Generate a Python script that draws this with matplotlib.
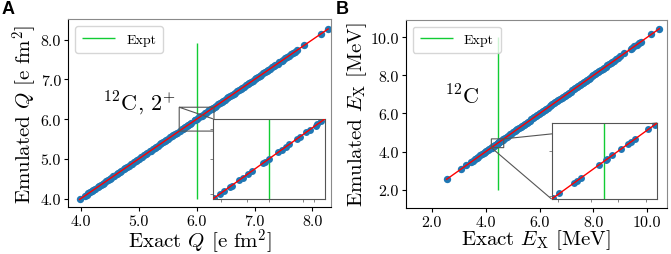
import matplotlib
matplotlib.use("Agg")
import matplotlib.pyplot as plt

plt.rcParams['font.family'] = 'serif'
plt.rcParams['font.serif'] = ['cmr10', 'DejaVu Serif']
plt.rcParams['mathtext.fontset'] = 'cm'
plt.rcParams['axes.formatter.use_mathtext'] = True
plt.rcParams['axes.unicode_minus'] = False

# ---------------- data ----------------
exact_q = [3.98, 4.07, 4.10, 4.13, 4.16, 4.20, 4.22, 4.25, 4.29, 4.31, 4.35, 4.38, 4.40, 4.44,
           4.47, 4.50, 4.53, 4.56, 4.58, 4.62, 4.65, 4.68, 4.70, 4.74, 4.77, 4.80, 4.83, 4.86,
           4.88, 4.92, 4.95, 4.97, 5.01, 5.04, 5.06, 5.10, 5.12, 5.15, 5.19, 5.21, 5.24, 5.28,
           5.30, 5.33, 5.37, 5.39, 5.42, 5.45, 5.48, 5.51, 5.54, 5.57, 5.60, 5.63, 5.66, 5.705,
           5.74, 5.76, 5.79, 5.80, 5.84, 5.86, 5.89, 5.91, 5.97, 5.98, 6.00, 6.05, 6.07, 6.09,
           6.11, 6.15, 6.165, 6.20, 6.22, 6.25, 6.26, 6.28, 6.31, 6.34, 6.37, 6.40, 6.43, 6.46,
           6.49, 6.52, 6.55, 6.58, 6.61, 6.64, 6.67, 6.70, 6.73, 6.76, 6.79, 6.82, 6.85, 6.88,
           6.91, 6.94, 6.97, 7.00, 7.03, 7.06, 7.09, 7.12, 7.15, 7.18, 7.21, 7.24, 7.27, 7.30,
           7.33, 7.36, 7.40, 7.43, 7.47, 7.50, 7.53, 7.56, 7.60, 7.63, 7.66, 7.70, 7.74, 7.86,
           8.15, 8.27]
emul_q = [3.98, 4.07, 4.10, 4.13, 4.16, 4.20, 4.22, 4.25, 4.29, 4.31, 4.35, 4.38, 4.40, 4.44,
          4.47, 4.50, 4.53, 4.56, 4.58, 4.62, 4.65, 4.68, 4.70, 4.74, 4.77, 4.80, 4.83, 4.86,
          4.88, 4.92, 4.95, 4.97, 5.01, 5.04, 5.06, 5.10, 5.12, 5.15, 5.19, 5.21, 5.24, 5.28,
          5.30, 5.33, 5.37, 5.39, 5.42, 5.45, 5.48, 5.51, 5.54, 5.57, 5.60, 5.63, 5.66, 5.705,
          5.74, 5.76, 5.79, 5.80, 5.84, 5.86, 5.89, 5.91, 5.97, 5.98, 6.00, 6.05, 6.07, 6.09,
          6.11, 6.15, 6.165, 6.20, 6.22, 6.25, 6.26, 6.28, 6.31, 6.34, 6.37, 6.40, 6.43, 6.46,
          6.49, 6.52, 6.55, 6.58, 6.61, 6.64, 6.67, 6.70, 6.73, 6.76, 6.79, 6.82, 6.85, 6.88,
          6.91, 6.94, 6.97, 7.00, 7.03, 7.06, 7.09, 7.12, 7.15, 7.18, 7.21, 7.24, 7.27, 7.30,
          7.33, 7.36, 7.40, 7.43, 7.47, 7.50, 7.53, 7.56, 7.60, 7.63, 7.66, 7.70, 7.74, 7.86,
          8.15, 8.27]
expt_q = 6.0
expt_q_span = [4.0, 7.92]

exact_e = [2.55, 3.10, 3.28, 3.45, 3.52, 3.60, 3.68, 3.73, 3.80, 3.86, 3.92, 3.97, 4.03, 4.09,
           4.14, 4.19, 4.217, 4.244, 4.309, 4.319, 4.338, 4.417, 4.445, 4.450, 4.475, 4.51,
           4.544, 4.554, 4.573, 4.631, 4.66, 4.72, 4.78, 4.83, 4.90, 4.95, 5.01, 5.07, 5.12,
           5.18, 5.24, 5.30, 5.35, 5.41, 5.46, 5.52, 5.58, 5.63, 5.69, 5.75, 5.80, 5.86, 5.92,
           5.97, 6.03, 6.08, 6.14, 6.20, 6.25, 6.31, 6.37, 6.42, 6.48, 6.53, 6.59, 6.65, 6.70,
           6.76, 6.82, 6.87, 6.93, 6.98, 7.04, 7.10, 7.15, 7.21, 7.27, 7.32, 7.38, 7.43, 7.49,
           7.55, 7.60, 7.66, 7.71, 7.77, 7.83, 7.88, 7.94, 8.00, 8.05, 8.11, 8.16, 8.22, 8.28,
           8.34, 8.40, 8.46, 8.52, 8.58, 8.64, 8.70, 8.77, 8.85, 8.93, 9.00, 9.15, 9.38, 9.45,
           9.52, 9.60, 9.68, 9.75, 10.15, 10.45]
emul_e = [2.55, 3.10, 3.28, 3.45, 3.52, 3.60, 3.68, 3.73, 3.80, 3.86, 3.92, 3.97, 4.03, 4.09,
          4.14, 4.19, 4.217, 4.244, 4.309, 4.319, 4.338, 4.417, 4.445, 4.450, 4.475, 4.51,
          4.544, 4.554, 4.573, 4.631, 4.66, 4.72, 4.78, 4.83, 4.90, 4.95, 5.01, 5.07, 5.12,
          5.18, 5.24, 5.30, 5.35, 5.41, 5.46, 5.52, 5.58, 5.63, 5.69, 5.75, 5.80, 5.86, 5.92,
          5.97, 6.03, 6.08, 6.14, 6.20, 6.25, 6.31, 6.37, 6.42, 6.48, 6.53, 6.59, 6.65, 6.70,
          6.76, 6.82, 6.87, 6.93, 6.98, 7.04, 7.10, 7.15, 7.21, 7.27, 7.32, 7.38, 7.43, 7.49,
          7.55, 7.60, 7.66, 7.71, 7.77, 7.83, 7.88, 7.94, 8.00, 8.05, 8.11, 8.16, 8.22, 8.28,
          8.34, 8.40, 8.46, 8.52, 8.58, 8.64, 8.70, 8.77, 8.85, 8.93, 9.00, 9.15, 9.38, 9.45,
          9.52, 9.60, 9.68, 9.75, 10.15, 10.45]
expt_e = 4.44
expt_e_span = [2.0, 10.0]

ticks_q = [4.0, 5.0, 6.0, 7.0, 8.0]
ticks_e = [2.0, 4.0, 6.0, 8.0, 10.0]

BLUE = '#1f77b4'
GREEN = '#11cc33'
GRAY = '#8a8a8a'

fig = plt.figure(figsize=(6.71, 2.55), dpi=100)
axA = fig.add_axes([0.1013, 0.1843, 0.392, 0.7373])
axB = fig.add_axes([0.6046, 0.180, 0.389, 0.739])


def style(ax):
    ax.spines['top'].set_color(GRAY)
    ax.spines['right'].set_color(GRAY)
    ax.tick_params(direction='out', length=3, width=0.8, labelsize=11.5, pad=2)


def draw(ax, ex, em, expt, span, ms=5.3):
    ax.plot(ex, em, 'o', color=BLUE, ms=ms, mew=0, zorder=2)
    srt = sorted(ex)
    ax.plot(srt, srt, '-', color='red', lw=1.0, zorder=3)
    ax.vlines(expt, span[0], span[1], color=GREEN, lw=1.0, label='Expt', zorder=1)


# ---------- Panel A ----------
draw(axA, exact_q, emul_q, expt_q, expt_q_span)
axA.set_xlim(3.78, 8.32)
axA.set_ylim(3.79, 8.52)
axA.set_xticks(ticks_q)
axA.set_yticks(ticks_q)
axA.set_xticklabels([f"{t:.1f}" for t in ticks_q])
axA.set_yticklabels([f"{t:.1f}" for t in ticks_q])
axA.set_xlabel(r"Exact $Q$ [e fm$^2$]", fontsize=15, labelpad=-1)
axA.set_ylabel(r"Emulated $Q$ [e fm$^2$]", fontsize=15, labelpad=1)
style(axA)
axA.legend(loc='upper left', fontsize=10, handlelength=2.4, borderpad=0.5,
           frameon=True, fancybox=True, framealpha=0.8)
axA.text(4.38, 6.42, r"$^{12}$C, 2$^{+}$", fontsize=16, va='center', ha='left')

insA = axA.inset_axes([0.551, 0.043, 0.426, 0.426])
draw(insA, exact_q, emul_q, expt_q, [5.0, 7.0], ms=5.0)
insA.set_xlim(5.7, 6.3)
insA.set_ylim(5.7, 6.3)
insA.set_xticks([5.745, 5.88, 6.0, 6.18, 6.24])
insA.set_yticks([5.74, 6.0, 6.225])
insA.set_xticklabels([])
insA.set_yticklabels([])
insA.tick_params(length=2, width=0.5, colors='#555555')
for s in insA.spines.values():
    s.set_color('#555555')
axA.indicate_inset_zoom(insA, edgecolor='#555555', alpha=1.0, lw=0.8)

# ---------- Panel B ----------
draw(axB, exact_e, emul_e, expt_e, expt_e_span)
axB.set_xlim(1.03, 10.72)
axB.set_ylim(1.04, 10.92)
axB.set_xticks(ticks_e)
axB.set_yticks(ticks_e)
axB.set_xticklabels([f"{t:.1f}" for t in ticks_e])
axB.set_yticklabels([f"{t:.1f}" for t in ticks_e])
axB.set_xlabel(r"Exact $E_{\rm X}$ [MeV]", fontsize=15, labelpad=-1)
axB.set_ylabel(r"Emulated $E_{\rm X}$ [MeV]", fontsize=15, labelpad=1)
style(axB)
axB.legend(loc='upper left', fontsize=10, handlelength=2.4, borderpad=0.5,
           frameon=True, fancybox=True, framealpha=0.8)
axB.text(2.49, 6.92, r"$^{12}$C", fontsize=16, va='center', ha='left')

insB = axB.inset_axes([0.559, 0.048, 0.405, 0.404])
draw(insB, exact_e, emul_e, expt_e, [3.0, 6.0], ms=5.0)
insB.set_xlim(4.21, 4.67)
insB.set_ylim(4.21, 4.67)
insB.set_xticks([4.24, 4.38, 4.50, 4.62])
insB.set_yticks([4.23, 4.50])
insB.set_xticklabels([])
insB.set_yticklabels([])
insB.tick_params(length=2, width=0.5, colors='#555555')
for s in insB.spines.values():
    s.set_color('#555555')
axB.indicate_inset_zoom(insB, edgecolor='#555555', alpha=1.0, lw=0.8)

fig.text(0.003, 0.995, "A", fontsize=13, fontweight='bold', family='Liberation Sans',
         va='top', ha='left')
fig.text(0.500, 0.995, "B", fontsize=13, fontweight='bold', family='Liberation Sans',
         va='top', ha='left')

fig.savefig("out.png", dpi=100)
